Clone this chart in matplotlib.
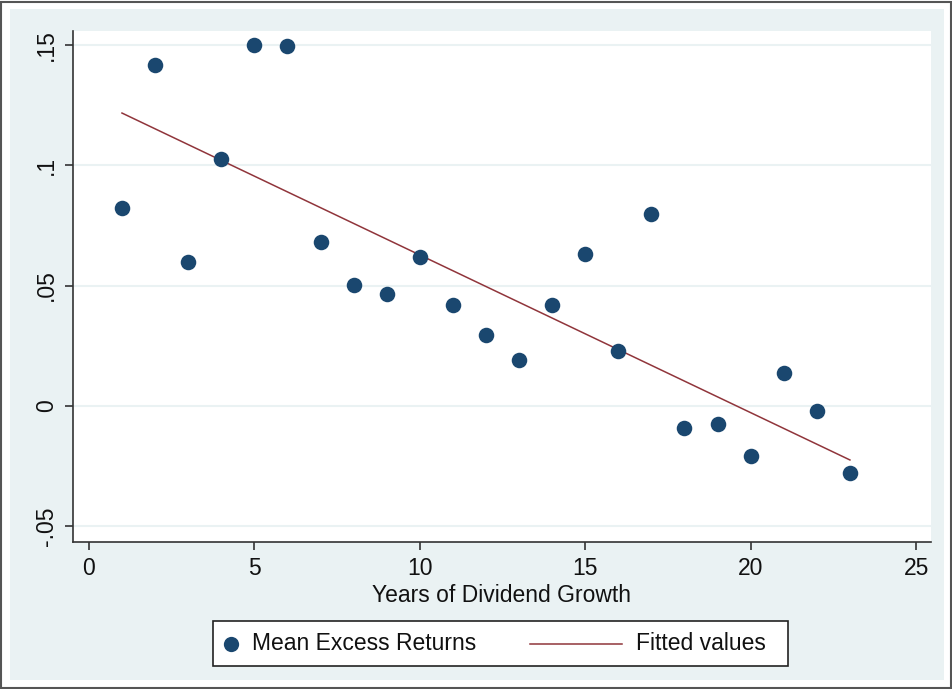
import matplotlib
matplotlib.use("Agg")
import matplotlib.pyplot as plt
from matplotlib.patches import Rectangle
from matplotlib.lines import Line2D

# ── Data ─────────────────────────────────────────────────────────────────────
years = [1, 2, 3, 4, 5, 6, 7, 8, 9, 10, 11, 12, 13, 14, 15, 16, 17, 18, 19, 20, 21, 22, 23]
mean_excess = [0.0821, 0.1417, 0.0596, 0.1025, 0.1500, 0.1496, 0.0683, 0.0504,
               0.0463, 0.0617, 0.0421, 0.0296, 0.0192, 0.0421, 0.0633, 0.0229,
               0.0796, -0.0092, -0.0075, -0.0208, 0.0138, -0.0021, -0.0279]
fit_x = [1, 23]
fit_y = [0.1217, -0.0225]

yticks = [-0.05, 0, 0.05, 0.1, 0.15]
ytick_labels = ["-.05", "0", ".05", ".1", ".15"]
xticks = [0, 5, 10, 15, 20, 25]

NAVY = "#1a476f"
MAROON = "#90353b"
BG = "#eaf2f3"
AXC = "#333333"
FS = 16.5

plt.rcParams["font.family"] = ["Liberation Sans", "DejaVu Sans"]

W, H = 953, 689
fig = plt.figure(figsize=(W / 100, H / 100), dpi=100)
fig.patch.set_facecolor("white")


def fx(x):
    return x / W


def fy(y):
    return 1 - y / H


# outer frame and light graph region
fig.add_artist(Rectangle((fx(1.5), fy(687.5)), fx(950), (686 / H), transform=fig.transFigure,
                         facecolor="white", edgecolor="#555555", linewidth=1.5, zorder=-2))
fig.add_artist(Rectangle((fx(10), fy(680)), fx(934), (671 / H), transform=fig.transFigure,
                         facecolor=BG, edgecolor="none", zorder=-1))

ax = fig.add_axes([fx(73), fy(542), fx(931 - 73), (542 - 31) / H])
ax.set_facecolor("white")

ax.scatter(years, mean_excess, s=125, color=NAVY, zorder=3, linewidths=0)
ax.plot(fit_x, fit_y, color=MAROON, linewidth=1.1, zorder=2)

ax.set_xlim(-0.48, 25.45)
ax.set_ylim(-0.0566, 0.1558)
ax.set_yticks(yticks)
ax.set_yticklabels(ytick_labels, rotation=90, va="center")
ax.set_xticks(xticks)
ax.grid(axis="y", color=BG, linewidth=1.5)
ax.set_axisbelow(True)

for side in ("top", "right"):
    ax.spines[side].set_visible(False)
for side in ("left", "bottom"):
    ax.spines[side].set_color(AXC)
    ax.spines[side].set_linewidth(1.2)
ax.tick_params(axis="both", direction="out", length=6, width=1.2, color=AXC,
               labelsize=FS, labelcolor="#111111", pad=5)

ax.set_xlabel("Years of Dividend Growth", fontsize=FS, color="#111111", labelpad=3)

# ── Legend box ───────────────────────────────────────────────────────────────
fig.add_artist(Rectangle((fx(213), fy(666)), fx(788 - 213), 45 / H, transform=fig.transFigure,
                         facecolor="white", edgecolor="#222222", linewidth=1.2, zorder=5))
ly = fy(644)
fig.add_artist(Line2D([fx(231)], [ly], marker="o", markersize=11, color=NAVY,
                      markeredgewidth=0, transform=fig.transFigure, zorder=6))
fig.text(fx(252), ly, "Mean Excess Returns", fontsize=FS, va="center", ha="left",
         color="#111111", zorder=6)
fig.add_artist(Line2D([fx(530), fx(622)], [ly, ly], color=MAROON, linewidth=1.1,
                      transform=fig.transFigure, zorder=6))
fig.text(fx(636), ly, "Fitted values", fontsize=FS, va="center", ha="left",
         color="#111111", zorder=6)

fig.savefig("out.png", dpi=100)
